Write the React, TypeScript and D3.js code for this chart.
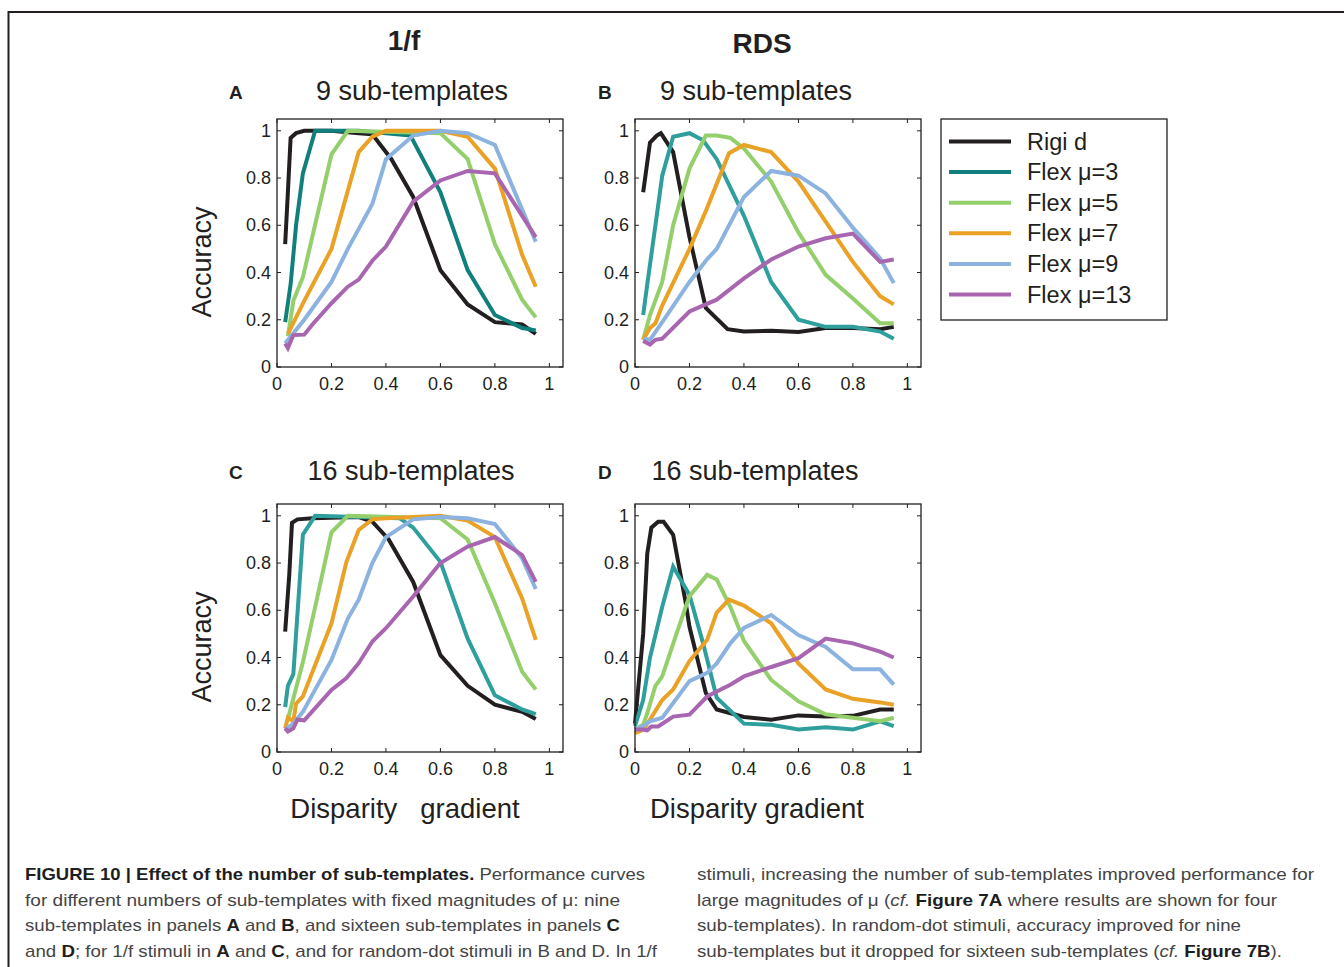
import React from "react";
import * as d3 from "d3";

type Pt = [number, number];

const SERIES_NAMES = ["Rigi d", "Flex μ=3", "Flex μ=5", "Flex μ=7", "Flex μ=9", "Flex μ=13"];
const X_TICKS = [0, 0.2, 0.4, 0.6, 0.8, 1];
const Y_TICKS = [0, 0.2, 0.4, 0.6, 0.8, 1];

// Panel A: 1/f, 9 sub-templates
const A_rigid: Pt[] = [[0.03,0.52],[0.04,0.74],[0.05,0.97],[0.07,0.99],[0.1,1.0],[0.2,1.0],[0.3,0.99],[0.35,0.985],[0.38,0.94],[0.42,0.88],[0.5,0.72],[0.6,0.41],[0.7,0.265],[0.8,0.19],[0.9,0.18],[0.95,0.14]];
const A_mu3: Pt[] = [[0.03,0.19],[0.05,0.35],[0.07,0.6],[0.095,0.82],[0.14,1.0],[0.3,1.0],[0.49,0.98],[0.6,0.74],[0.7,0.41],[0.8,0.22],[0.9,0.165],[0.95,0.155]];
const A_mu5: Pt[] = [[0.04,0.13],[0.06,0.28],[0.095,0.38],[0.2,0.9],[0.26,1.0],[0.6,0.99],[0.7,0.88],[0.8,0.52],[0.9,0.285],[0.95,0.21]];
const A_mu7: Pt[] = [[0.04,0.14],[0.1,0.28],[0.2,0.5],[0.3,0.91],[0.35,0.975],[0.4,1.0],[0.6,1.0],[0.7,0.975],[0.8,0.84],[0.9,0.475],[0.95,0.34]];
const A_mu9: Pt[] = [[0.03,0.10],[0.1,0.2],[0.2,0.36],[0.26,0.5],[0.35,0.69],[0.4,0.88],[0.5,0.98],[0.6,1.0],[0.7,0.99],[0.8,0.94],[0.95,0.53]];
const A_mu13: Pt[] = [[0.03,0.10],[0.04,0.08],[0.06,0.135],[0.1,0.137],[0.13,0.18],[0.2,0.27],[0.26,0.34],[0.3,0.37],[0.35,0.45],[0.4,0.51],[0.5,0.70],[0.6,0.79],[0.7,0.83],[0.8,0.82],[0.95,0.55]];

// Panel B: RDS, 9 sub-templates
const B_rigid: Pt[] = [[0.03,0.74],[0.055,0.95],[0.08,0.98],[0.095,0.99],[0.14,0.91],[0.2,0.55],[0.26,0.25],[0.34,0.16],[0.4,0.15],[0.5,0.153],[0.6,0.148],[0.7,0.165],[0.8,0.165],[0.9,0.16],[0.95,0.17]];
const B_mu3: Pt[] = [[0.03,0.22],[0.045,0.35],[0.075,0.6],[0.1,0.81],[0.14,0.975],[0.2,0.99],[0.25,0.96],[0.3,0.88],[0.4,0.64],[0.5,0.36],[0.6,0.2],[0.7,0.17],[0.8,0.17],[0.9,0.15],[0.95,0.12]];
const B_mu5: Pt[] = [[0.03,0.115],[0.055,0.22],[0.1,0.36],[0.14,0.6],[0.2,0.84],[0.26,0.98],[0.3,0.98],[0.35,0.97],[0.4,0.925],[0.5,0.785],[0.6,0.57],[0.7,0.39],[0.8,0.29],[0.9,0.185],[0.95,0.185]];
const B_mu7: Pt[] = [[0.03,0.115],[0.055,0.165],[0.075,0.185],[0.1,0.26],[0.2,0.5],[0.26,0.66],[0.345,0.905],[0.4,0.94],[0.5,0.91],[0.6,0.785],[0.7,0.615],[0.8,0.445],[0.9,0.30],[0.95,0.265]];
const B_mu9: Pt[] = [[0.03,0.12],[0.055,0.115],[0.1,0.19],[0.2,0.36],[0.26,0.45],[0.3,0.50],[0.4,0.72],[0.5,0.83],[0.6,0.81],[0.7,0.735],[0.8,0.59],[0.9,0.46],[0.95,0.355]];
const B_mu13: Pt[] = [[0.03,0.11],[0.055,0.095],[0.075,0.115],[0.1,0.12],[0.2,0.235],[0.3,0.285],[0.4,0.375],[0.5,0.455],[0.6,0.51],[0.7,0.545],[0.8,0.565],[0.9,0.445],[0.95,0.455]];

// Panel C: 1/f, 16 sub-templates
const C_rigid: Pt[] = [[0.03,0.51],[0.045,0.75],[0.055,0.97],[0.075,0.985],[0.13,0.99],[0.3,0.995],[0.35,0.975],[0.41,0.9],[0.5,0.72],[0.6,0.41],[0.7,0.28],[0.8,0.2],[0.9,0.17],[0.95,0.14]];
const C_mu3: Pt[] = [[0.03,0.19],[0.04,0.28],[0.06,0.33],[0.095,0.92],[0.14,1.0],[0.3,0.995],[0.45,0.99],[0.5,0.95],[0.6,0.805],[0.7,0.48],[0.8,0.24],[0.9,0.18],[0.95,0.16]];
const C_mu5: Pt[] = [[0.04,0.14],[0.095,0.38],[0.145,0.64],[0.2,0.93],[0.26,1.0],[0.6,0.99],[0.7,0.9],[0.8,0.63],[0.9,0.34],[0.95,0.265]];
const C_mu7: Pt[] = [[0.03,0.10],[0.04,0.145],[0.06,0.13],[0.07,0.205],[0.095,0.235],[0.2,0.545],[0.255,0.805],[0.3,0.94],[0.35,0.985],[0.4,0.99],[0.6,1.0],[0.7,0.98],[0.8,0.91],[0.9,0.65],[0.95,0.475]];
const C_mu9: Pt[] = [[0.03,0.095],[0.06,0.12],[0.095,0.17],[0.2,0.39],[0.26,0.565],[0.3,0.645],[0.35,0.80],[0.4,0.91],[0.5,0.985],[0.6,0.995],[0.7,0.99],[0.8,0.965],[0.9,0.82],[0.95,0.69]];
const C_mu13: Pt[] = [[0.03,0.10],[0.04,0.087],[0.06,0.10],[0.075,0.137],[0.1,0.134],[0.2,0.263],[0.255,0.313],[0.3,0.376],[0.35,0.468],[0.4,0.524],[0.5,0.658],[0.6,0.80],[0.7,0.87],[0.8,0.91],[0.9,0.834],[0.95,0.72]];

// Panel D: RDS, 16 sub-templates
const D_rigid: Pt[] = [[0.0,0.12],[0.03,0.50],[0.045,0.84],[0.06,0.95],[0.085,0.975],[0.105,0.975],[0.14,0.92],[0.185,0.64],[0.2,0.53],[0.26,0.25],[0.3,0.18],[0.4,0.148],[0.5,0.137],[0.6,0.155],[0.7,0.15],[0.8,0.153],[0.9,0.18],[0.95,0.18]];
const D_mu3: Pt[] = [[0.0,0.11],[0.03,0.22],[0.055,0.40],[0.1,0.615],[0.14,0.785],[0.2,0.665],[0.25,0.46],[0.3,0.23],[0.4,0.12],[0.5,0.115],[0.6,0.095],[0.7,0.105],[0.8,0.095],[0.9,0.13],[0.95,0.11]];
const D_mu5: Pt[] = [[0.0,0.095],[0.03,0.115],[0.045,0.165],[0.075,0.28],[0.1,0.32],[0.155,0.51],[0.2,0.66],[0.265,0.75],[0.3,0.73],[0.35,0.615],[0.4,0.47],[0.5,0.305],[0.6,0.215],[0.7,0.16],[0.8,0.145],[0.9,0.13],[0.95,0.145]];
const D_mu7: Pt[] = [[0.0,0.08],[0.03,0.095],[0.055,0.137],[0.1,0.22],[0.14,0.265],[0.2,0.385],[0.265,0.475],[0.3,0.59],[0.345,0.645],[0.4,0.62],[0.5,0.545],[0.6,0.375],[0.7,0.265],[0.8,0.225],[0.9,0.21],[0.95,0.20]];
const D_mu9: Pt[] = [[0.0,0.095],[0.03,0.11],[0.055,0.13],[0.1,0.145],[0.2,0.30],[0.265,0.335],[0.3,0.375],[0.35,0.46],[0.4,0.525],[0.5,0.58],[0.6,0.495],[0.7,0.445],[0.8,0.35],[0.9,0.35],[0.95,0.285]];
const D_mu13: Pt[] = [[0.0,0.095],[0.03,0.095],[0.045,0.092],[0.06,0.108],[0.085,0.108],[0.14,0.15],[0.2,0.158],[0.265,0.235],[0.3,0.256],[0.35,0.285],[0.4,0.32],[0.5,0.36],[0.6,0.397],[0.7,0.48],[0.8,0.46],[0.9,0.425],[0.95,0.40]];

const COLORS = ["#231f20", "#11807d", "#94cf6c", "#e9a126", "#8cb3e0", "#a866b1"];
const TEAL_LIGHT = "#2e9f9c";

const FONT = "'Liberation Sans', Arial, Helvetica, sans-serif";

interface PanelSpec {
  letter: string;
  title: string;
  left: number;
  top: number;
  series: Pt[][];
  teal: string;
  ylabel: boolean;
  letterX: number;
  titleCx: number;
  titleDy: number;
  xlabel?: string;
  xlabelCx?: number;
}

const PW = 286;
const PH = 248;

const PANELS: PanelSpec[] = [
  { letter: "A", title: "9 sub-templates", left: 277, top: 119, series: [A_rigid, A_mu3, A_mu5, A_mu7, A_mu9, A_mu13], teal: COLORS[1], ylabel: true, letterX: 229, titleCx: 412, titleDy: -19 },
  { letter: "B", title: "9 sub-templates", left: 635, top: 119, series: [B_rigid, B_mu3, B_mu5, B_mu7, B_mu9, B_mu13], teal: TEAL_LIGHT, ylabel: false, letterX: 598, titleCx: 756, titleDy: -19 },
  { letter: "C", title: "16 sub-templates", left: 277, top: 504, series: [C_rigid, C_mu3, C_mu5, C_mu7, C_mu9, C_mu13], teal: TEAL_LIGHT, ylabel: true, letterX: 229, titleCx: 411, titleDy: -24, xlabel: "Disparity   gradient", xlabelCx: 405 },
  { letter: "D", title: "16 sub-templates", left: 635, top: 504, series: [D_rigid, D_mu3, D_mu5, D_mu7, D_mu9, D_mu13], teal: TEAL_LIGHT, ylabel: false, letterX: 598, titleCx: 755, titleDy: -24, xlabel: "Disparity gradient", xlabelCx: 757 },
];

function Panel({ p }: { p: PanelSpec }) {
  const x = d3.scaleLinear().domain([0, 1.05]).range([p.left, p.left + PW]);
  const y = d3.scaleLinear().domain([0, 1.05]).range([p.top + PH, p.top]);
  const line = d3.line<Pt>().x((d) => x(d[0])).y((d) => y(d[1]));
  const tick = 4;
  return (
    <g>
      <text x={p.letterX} y={p.top + p.titleDy - 1} fontFamily={FONT} fontWeight="bold" fontSize={19} fill="#231f20">{p.letter}</text>
      <text x={p.titleCx} y={p.top + p.titleDy} textAnchor="middle" fontFamily={FONT} fontSize={27} fill="#231f20">{p.title}</text>
      <rect x={p.left} y={p.top} width={PW} height={PH} fill="#fff" />
      {p.series.map((s, i) => (
        <path key={i} d={line(s) || ""} fill="none" stroke={i === 1 ? p.teal : COLORS[i]} strokeWidth={4} strokeLinejoin="miter" />
      ))}
      <rect x={p.left} y={p.top} width={PW} height={PH} fill="none" stroke="#231f20" strokeWidth={1.3} />
      {X_TICKS.map((t) => (
        <g key={"x" + t}>
          <line x1={x(t)} x2={x(t)} y1={p.top + PH} y2={p.top + PH - tick} stroke="#231f20" strokeWidth={1} />
          <line x1={x(t)} x2={x(t)} y1={p.top} y2={p.top + tick} stroke="#231f20" strokeWidth={1} />
          <text x={x(t)} y={p.top + PH + 23} textAnchor="middle" fontFamily={FONT} fontSize={18} fill="#231f20">{String(t)}</text>
        </g>
      ))}
      {Y_TICKS.map((t) => (
        <g key={"y" + t}>
          <line x1={p.left} x2={p.left + tick} y1={y(t)} y2={y(t)} stroke="#231f20" strokeWidth={1} />
          <line x1={p.left + PW} x2={p.left + PW - tick} y1={y(t)} y2={y(t)} stroke="#231f20" strokeWidth={1} />
          <text x={p.left - 6} y={y(t) + 6} textAnchor="end" fontFamily={FONT} fontSize={18} fill="#231f20">{String(t)}</text>
        </g>
      ))}
      {p.ylabel && (
        <text transform={`translate(${p.left - 66},${p.top + 143}) rotate(-90)`} textAnchor="middle" fontFamily={FONT} fontSize={27} fill="#231f20">Accuracy</text>
      )}
      {p.xlabel && (
        <text x={p.xlabelCx} y={p.top + PH + 66} textAnchor="middle" fontFamily={FONT} fontSize={27.5} fill="#231f20" style={{ whiteSpace: "pre" }}>{p.xlabel}</text>
      )}
    </g>
  );
}

function Legend() {
  const lx = 941, ly = 119, lw = 226, lh = 201;
  return (
    <g>
      <rect x={lx} y={ly} width={lw} height={lh} fill="#fff" stroke="#231f20" strokeWidth={1.3} />
      {SERIES_NAMES.map((n, i) => {
        const yy = 141.5 + i * 30.6;
        return (
          <g key={n}>
            <line x1={949} x2={1011} y1={yy} y2={yy} stroke={COLORS[i]} strokeWidth={4} />
            <text x={1027} y={yy + 8} fontFamily={FONT} fontSize={23.5} fill="#231f20" style={{ whiteSpace: "pre" }}>{n}</text>
          </g>
        );
      })}
    </g>
  );
}

const CAP_FONT = "'Liberation Sans', Arial, sans-serif";
const B = (s: string) => <tspan fontWeight="bold" fill="#1e1e1e">{s}</tspan>;
const I = (s: string) => <tspan fontStyle="italic">{s}</tspan>;

const CAPTION_LEFT: { parts: React.ReactNode[]; w: number }[] = [
  { parts: [B("FIGURE 10 | Effect of the number of sub-templates."), " Performance curves"], w: 620 },
  { parts: ["for different numbers of sub-templates with fixed magnitudes of μ: nine"], w: 595 },
  { parts: ["sub-templates in panels ", B("A"), " and ", B("B"), ", and sixteen sub-templates in panels ", B("C")], w: 595 },
  { parts: ["and ", B("D"), "; for 1/f stimuli in ", B("A"), " and ", B("C"), ", and for random-dot stimuli in B and D. In 1/f"], w: 632 },
];
const CAPTION_RIGHT: { parts: React.ReactNode[]; w: number }[] = [
  { parts: ["stimuli, increasing the number of sub-templates improved performance for"], w: 617 },
  { parts: ["large magnitudes of μ (", I("cf."), " ", B("Figure 7A"), " where results are shown for four"], w: 580 },
  { parts: ["sub-templates). In random-dot stimuli, accuracy improved for nine"], w: 544 },
  { parts: ["sub-templates but it dropped for sixteen sub-templates (", I("cf."), " ", B("Figure 7B"), ")."], w: 585 },
];

export default function App() {
  return (
    <svg width={1344} height={967} style={{ position: "absolute", left: 0, top: 0, display: "block", background: "#fff" }}>
      <rect x={0} y={0} width={1344} height={967} fill="#fff" />
      <path d="M 8.5 967 L 8.5 12 L 1344 12" fill="none" stroke="#231f20" strokeWidth={2} />
      <text x={404} y={50} textAnchor="middle" fontFamily={FONT} fontWeight="bold" fontSize={28} fill="#231f20">1/f</text>
      <text x={762} y={53} textAnchor="middle" fontFamily={FONT} fontWeight="bold" fontSize={28} fill="#231f20">RDS</text>
      {PANELS.map((p) => <Panel key={p.letter} p={p} />)}
      <Legend />
      {CAPTION_LEFT.map((l, i) => (
        <text key={"l" + i} x={25} y={880 + i * 25.5} fontFamily={CAP_FONT} fontSize={17} fill="#444" textLength={l.w} lengthAdjust="spacingAndGlyphs">{l.parts}</text>
      ))}
      {CAPTION_RIGHT.map((l, i) => (
        <text key={"r" + i} x={697} y={880 + i * 25.5} fontFamily={CAP_FONT} fontSize={17} fill="#444" textLength={l.w} lengthAdjust="spacingAndGlyphs">{l.parts}</text>
      ))}
    </svg>
  );
}
